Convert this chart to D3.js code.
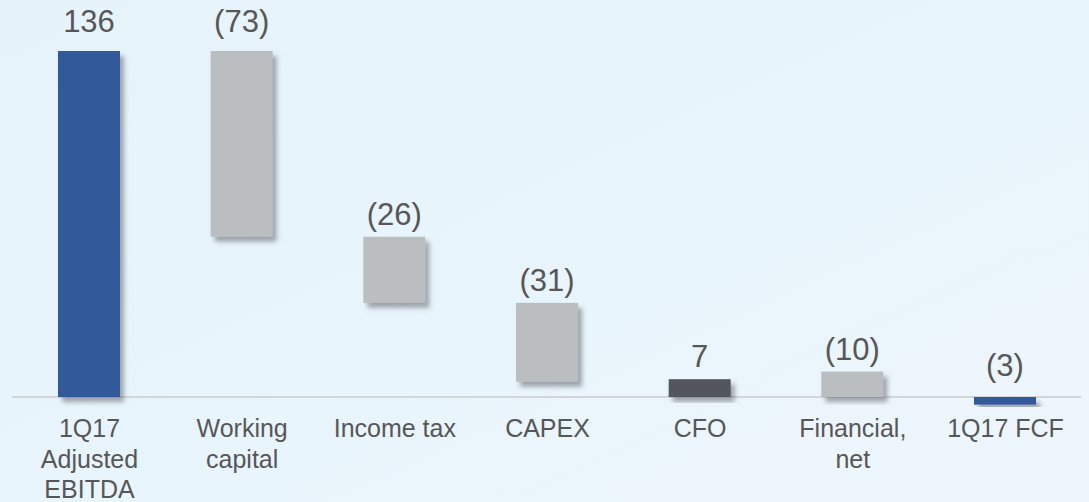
<!DOCTYPE html>
<html>
  <head>
    <meta charset="utf-8">
    <title>1Q17 FCF bridge</title>
    <style>
      html, body { margin: 0; padding: 0; overflow: hidden; }
      body { width: 1089px; height: 502px; }
    </style>
  </head>
  <body>
    <svg id="chart" width="1089" height="502"></svg>

    <script type="text/javascript" src="https://cdnjs.cloudflare.com/ajax/libs/d3/7.8.5/d3.min.js"></script>
    <script type="text/javascript">
      // values
      var categories = ['1Q17 Adjusted EBITDA', 'Working capital', 'Income tax', 'CAPEX', 'CFO', 'Financial, net', '1Q17 FCF'];
      var categoryLines = [['1Q17', 'Adjusted', 'EBITDA'], ['Working', 'capital'], ['Income tax'], ['CAPEX'], ['CFO'], ['Financial,', 'net'], ['1Q17 FCF']];
      var values = [136, -73, -26, -31, 7, -10, -3];
      var barLow = [0, 63, 37, 6, 0, 0, -3];
      var barHigh = [136, 136, 63, 37, 7, 10, 0];
      var barKind = ['total', 'step', 'step', 'step', 'sub', 'step', 'total'];

      var colors = { total: '#335a9a', step: '#bbbec1', sub: '#53575b' };
      var textColor = '#575757';

      var svg = d3.select('#chart');
      var W = 1089, H = 502;

      var defs = svg.append('defs');
      var bg = defs.append('linearGradient').attr('id', 'bg')
        .attr('x1', 0).attr('y1', 0).attr('x2', 1).attr('y2', 1);
      bg.append('stop').attr('offset', '0%').attr('stop-color', '#e7f3fb');
      bg.append('stop').attr('offset', '60%').attr('stop-color', '#e9f5fc');
      bg.append('stop').attr('offset', '100%').attr('stop-color', '#eef6fb');

      var shadow = defs.append('filter').attr('id', 'shadow')
        .attr('x', '-20%').attr('y', '-20%').attr('width', '150%').attr('height', '150%');
      shadow.append('feDropShadow')
        .attr('dx', 4).attr('dy', 5).attr('stdDeviation', 2.5)
        .attr('flood-color', '#5c6166').attr('flood-opacity', 0.55);

      svg.append('rect').attr('width', W).attr('height', H).attr('fill', 'url(#bg)');

      var x = d3.scalePoint().domain(categories).range([89, 1005]);
      var y = d3.scaleLinear().domain([0, 136]).range([397, 51]);
      var barW = 62;
      var maxHigh = d3.max(barHigh);

      // baseline
      svg.append('line')
        .attr('x1', 12).attr('x2', 1081)
        .attr('y1', y(0)).attr('y2', y(0))
        .attr('stroke', '#d3d6d9').attr('stroke-width', 2);

      var rows = categories.map(function (c, i) {
        return { cat: c, v: values[i], lo: barLow[i], hi: barHigh[i], kind: barKind[i] };
      });

      svg.append('g').selectAll('rect').data(rows).enter().append('rect')
        .attr('x', function (d) { return x(d.cat) - barW / 2; })
        .attr('y', function (d) { return y(d.hi); })
        .attr('width', barW)
        .attr('height', function (d) { return y(d.lo) - y(d.hi); })
        .attr('fill', function (d) { return colors[d.kind]; })
        .attr('filter', 'url(#shadow)');

      // value labels
      svg.append('g').selectAll('text').data(rows).enter().append('text')
        .attr('x', function (d) { return x(d.cat); })
        .attr('y', function (d) {
          if (d.hi <= 0) return y(0) - 21;
          return y(d.hi) - (d.hi === maxHigh ? 19 : 12);
        })
        .attr('text-anchor', 'middle')
        .style('font-family', 'Arial, "Liberation Sans", sans-serif')
        .style('font-size', '31px')
        .style('fill', textColor)
        .text(function (d) { return d.v < 0 ? '(' + Math.abs(d.v) + ')' : d.v; });

      // category axis
      var axis = d3.axisBottom(x).tickSize(0).tickPadding(0);
      var gx = svg.append('g').attr('transform', 'translate(0,' + y(0) + ')').call(axis);
      gx.select('.domain').remove();
      gx.selectAll('.tick text').each(function (d, i) {
        var t = d3.select(this).text(null)
          .attr('y', 0).attr('dy', null)
          .attr('fill', textColor)
          .style('font-family', 'Arial, "Liberation Sans", sans-serif')
          .style('font-size', '25px');
        categoryLines[i].forEach(function (line, k) {
          t.append('tspan').attr('x', 0).attr('y', 40 + k * 30.5).text(line);
        });
      });
    </script>
  </body>
</html>
